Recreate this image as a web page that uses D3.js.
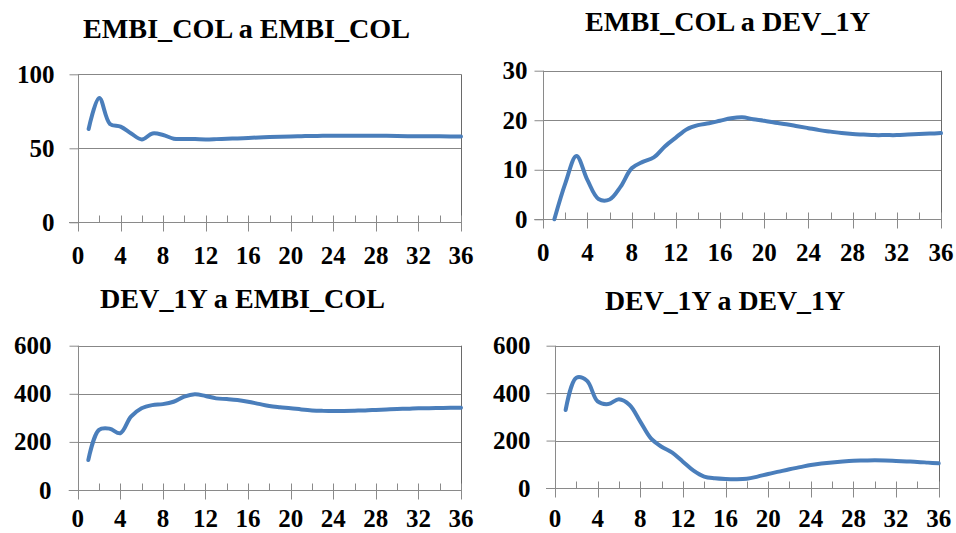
<!DOCTYPE html>
<html>
<head>
<meta charset="utf-8">
<script src="https://cdn.jsdelivr.net/npm/d3@7/dist/d3.min.js"></script>
<style>
  html, body { margin: 0; padding: 0; background: #ffffff; }
  svg { display: block; }
</style>
</head>
<body>
<svg id="chart" width="956" height="533"></svg>
<script>
// Horizon (months) shared by all four response panels
const horizon = d3.range(1, 37);
const xTickValues = [0, 4, 8, 12, 16, 20, 24, 28, 32, 36];
const xMinorValues = [2, 6, 10, 14, 18, 22, 26, 30, 34];

// Panel titles
const titles = ["EMBI_COL a EMBI_COL", "EMBI_COL a DEV_1Y", "DEV_1Y a EMBI_COL", "DEV_1Y a DEV_1Y"];

// Response values, one per month
const embiToEmbi = [63, 84, 66.5, 64.6, 60, 56, 60, 59, 56.5, 56.3, 56.2, 56, 56.2, 56.5, 56.7, 57,
  57.3, 57.6, 57.8, 58, 58.2, 58.3, 58.4, 58.5, 58.5, 58.5, 58.5, 58.5, 58.4, 58.3, 58.2, 58.2,
  58.1, 58.1, 58, 58];
const embiToDev = [0, 7.3, 12.8, 7.9, 4.1, 4.0, 6.6, 10.3, 11.6, 12.5, 14.7, 16.5, 18.2, 19, 19.4, 19.9,
  20.4, 20.6, 20.2, 19.9, 19.5, 19.2, 18.8, 18.4, 18, 17.7, 17.4, 17.2, 17.1, 17, 17, 17,
  17.1, 17.2, 17.3, 17.4];
const devToEmbi = [125, 250, 255, 236, 305, 340, 353, 357, 367, 388, 398, 391, 381, 378, 374, 367,
  358, 349, 344, 340, 335, 331, 329, 328, 329, 330, 331, 333, 335, 337, 338, 340,
  340, 341, 342, 342];
const devToDev = [329, 465, 452, 365, 354, 374, 350, 280, 209, 174, 149, 111, 73, 48, 41, 38,
  37, 39, 48, 59, 69, 79, 88, 97, 103, 108, 112, 115, 116, 117, 116, 114,
  112, 110, 107, 104];

// Y-axis ticks per panel
const yTicks1 = [0, 50, 100];
const yTicks2 = [0, 10, 20, 30];
const yTicks3 = [0, 200, 400, 600];
const yTicks4 = [0, 200, 400, 600];

// Panel frames (plot area in pixels), title anchors and title widths
const panels = [
  { title: titles[0], values: embiToEmbi, ticks: yTicks1, x0: 78, x1: 461, top: 74.3, bottom: 222.3, tx: 246.5, ty: 38, tw: 327, labelGap: 24, xlab: 42 },
  { title: titles[1], values: embiToDev, ticks: yTicks2, x0: 543.3, x1: 941, top: 70.7, bottom: 219.3, tx: 727.5, ty: 31, tw: 285, labelGap: 16, xlab: 42 },
  { title: titles[2], values: devToEmbi, ticks: yTicks3, x0: 77.7, x1: 461, top: 345.7, bottom: 490, tx: 242.5, ty: 308, tw: 285, labelGap: 27, xlab: 37 },
  { title: titles[3], values: devToDev, ticks: yTicks4, x0: 555, x1: 938.7, top: 345.7, bottom: 488, tx: 725, ty: 310, tw: 240, labelGap: 25, xlab: 39 }
];

const fontStack = "'Liberation Serif', Tinos, 'Times New Roman', Times, 'DejaVu Serif', 'Noto Serif', serif";
const svg = d3.select("#chart");
const gridColor = "#878787";
const axisColor = "#8a8a8a";
const lineColor = "#4a7ebb";

function serif(sel, size) {
  return sel.style("font-family", fontStack)
    .style("font-weight", "bold")
    .style("font-size", size + "px")
    .attr("fill", "#000");
}

panels.forEach(p => {
  const g = svg.append("g");
  const x = d3.scaleLinear().domain([0, 36]).range([p.x0, p.x1]);
  const y = d3.scaleLinear().domain([0, d3.max(p.ticks)]).range([p.bottom, p.top]);

  // title, held to its column width whatever face is picked up
  const t = g.append("text")
    .attr("x", p.tx).attr("y", p.ty)
    .attr("text-anchor", "middle")
    .text(p.title);
  serif(t, 27);
  const natural = t.node().getComputedTextLength();
  if (Math.abs(natural - p.tw) > 6) {
    t.attr("textLength", p.tw).attr("lengthAdjust", "spacingAndGlyphs");
  }

  // horizontal gridlines (excluding the zero baseline)
  g.selectAll("line.grid").data(p.ticks.filter(v => v > 0)).enter()
    .append("line")
    .attr("x1", p.x0).attr("x2", p.x1)
    .attr("y1", d => Math.round(y(d)) + 0.5).attr("y2", d => Math.round(y(d)) + 0.5)
    .attr("stroke", gridColor).attr("stroke-width", 1);

  // right plot border
  g.append("line")
    .attr("x1", Math.round(p.x1) + 0.5).attr("x2", Math.round(p.x1) + 0.5)
    .attr("y1", y(d3.max(p.ticks))).attr("y2", p.bottom)
    .attr("stroke", "#6a6a6a").attr("stroke-width", 1);

  // y axis
  const yAxis = d3.axisLeft(y).tickValues(p.ticks).tickSize(9).tickPadding(p.labelGap - 9).tickSizeOuter(0);
  const ya = g.append("g").attr("transform", `translate(${Math.round(p.x0) + 0.5},0)`).call(yAxis);
  ya.select(".domain").remove();
  ya.selectAll(".tick line").attr("stroke", axisColor);
  serif(ya.selectAll(".tick text"), 25);
  // vertical axis line, extending a little below the baseline
  g.append("line")
    .attr("x1", Math.round(p.x0) + 0.5).attr("x2", Math.round(p.x0) + 0.5)
    .attr("y1", y(d3.max(p.ticks))).attr("y2", p.bottom + 8)
    .attr("stroke", axisColor).attr("stroke-width", 1);

  // x axis baseline
  const by = Math.round(y(0)) + 0.5;
  g.append("line")
    .attr("x1", p.x0 - 9).attr("x2", p.x1)
    .attr("y1", by).attr("y2", by)
    .attr("stroke", axisColor).attr("stroke-width", 1);

  // major ticks (crossing) and minor ticks (inside)
  g.selectAll("line.major").data(xTickValues).enter()
    .append("line")
    .attr("x1", d => Math.round(x(d)) + 0.5).attr("x2", d => Math.round(x(d)) + 0.5)
    .attr("y1", by - 7).attr("y2", by + 9)
    .attr("stroke", axisColor);
  g.selectAll("line.minor").data(xMinorValues).enter()
    .append("line")
    .attr("x1", d => Math.round(x(d)) + 0.5).attr("x2", d => Math.round(x(d)) + 0.5)
    .attr("y1", by - 7).attr("y2", by)
    .attr("stroke", axisColor);

  // x tick labels
  serif(g.selectAll("text.xl").data(xTickValues).enter()
    .append("text")
    .attr("x", d => x(d)).attr("y", y(0) + p.xlab)
    .attr("text-anchor", "middle")
    .text(d => d), 25);

  // smoothed response line
  const line = d3.line()
    .x((d, i) => x(horizon[i]))
    .y(d => y(d))
    .curve(d3.curveCatmullRom.alpha(0.5));
  g.append("path")
    .datum(p.values)
    .attr("d", line)
    .attr("fill", "none")
    .attr("stroke", lineColor)
    .attr("stroke-width", 4)
    .attr("stroke-linejoin", "round")
    .attr("stroke-linecap", "round");
});
</script>
</body>
</html>
